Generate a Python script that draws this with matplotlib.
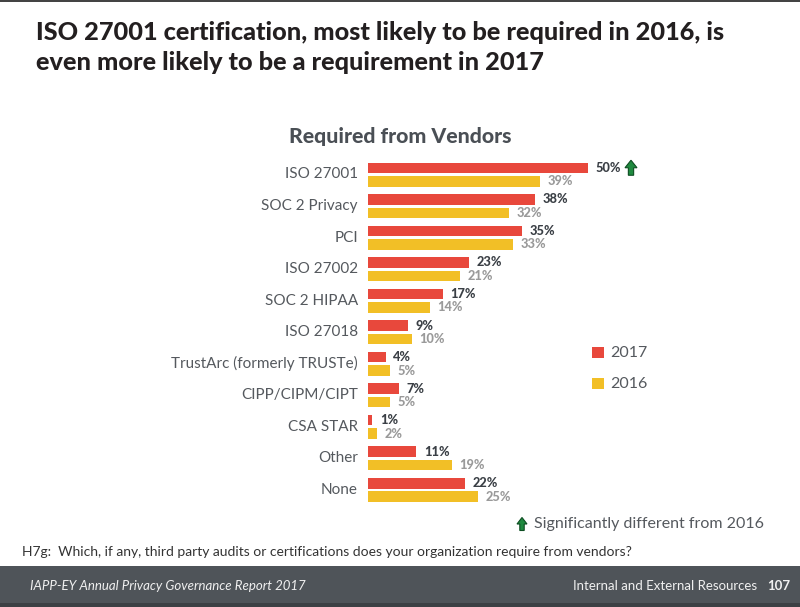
import matplotlib
matplotlib.use("Agg")
import matplotlib.pyplot as plt
from matplotlib.patches import Rectangle, Polygon

categories = ["ISO 27001", "SOC 2 Privacy", "PCI", "ISO 27002", "SOC 2 HIPAA",
              "ISO 27018", "TrustArc (formerly TRUSTe)", "CIPP/CIPM/CIPT",
              "CSA STAR", "Other", "None"]
v2017 = [50, 38, 35, 23, 17, 9, 4, 7, 1, 11, 22]
v2016 = [39, 32, 33, 21, 14, 10, 5, 5, 2, 19, 25]
significant = ["ISO 27001"]

RED = "#e8483c"
YEL = "#f2bf26"
W, H = 800, 607
FONT = "Lato"

fig = plt.figure(figsize=(8, 6.07), dpi=100)
fig.patch.set_facecolor("white")

def fx(x):
    return x / W

def fy(y):
    return 1 - y / H

# top dark line
fig.add_artist(Rectangle((0, fy(2)), 1, 2 / H, transform=fig.transFigure,
                         facecolor="#444", edgecolor="none"))

# title
fig.text(fx(36), fy(32), "ISO 27001 certification, most likely to be required in 2016, is",
         fontsize=18.2, fontweight="black", family=FONT, color="#231f20", va="center", ha="left")
fig.text(fx(36), fy(62), "even more likely to be a requirement in 2017",
         fontsize=18.2, fontweight="black", family=FONT, color="#231f20", va="center", ha="left")

fig.text(fx(400), fy(137), "Required from Vendors", fontsize=15.3, fontweight="black",
         family=FONT, color="#4a4f55", va="center", ha="center")

# bar axes in pixel geometry
ax_left, ax_top, ax_bot = 368, 150, 510
row0, step = 174.5, 31.55
ax = fig.add_axes([fx(ax_left), fy(ax_bot), (W - ax_left) / W, (ax_bot - ax_top) / H])
px_per_pct = 4.4
ax.set_xlim(0, (W - ax_left) / px_per_pct)
ax.set_ylim(10 + (ax_bot - 490) / step, -(row0 - ax_top) / step)
ax.axis("off")

n = len(categories)
ys = list(range(n))
bh = 10.5 / step
off = 6.75 / step
ax.barh([y - off for y in ys], v2017, height=bh, color=RED, edgecolor="none")
ax.barh([y + off for y in ys], v2016, height=bh, color=YEL, edgecolor="none")

for y, c, a, b in zip(ys, categories, v2017, v2016):
    ax.text(a + 1.7, y - off, f"{a}%", fontsize=9.2, fontweight="black", family=FONT,
            color="#3a3f45", va="center", ha="left")
    ax.text(b + 1.7, y + off, f"{b}%", fontsize=9.2, fontweight="black", family=FONT,
            color="#9a9a9a", va="center", ha="left")
    ax.text(-2.3, y, c, fontsize=11, family=FONT, color="#55595e",
            va="center", ha="right", clip_on=False)

def up_arrow(cx, cy, w, h, **kw):
    hw = w / 2
    sw = w * 0.22
    head = h * 0.5
    top = cy - h / 2
    bot = cy + h / 2
    pts = [(cx, top), (cx + hw, top + head), (cx + sw, top + head), (cx + sw, bot),
           (cx - sw, bot), (cx - sw, top + head), (cx - hw, top + head)]
    fig.add_artist(Polygon([(fx(x), fy(y)) for x, y in pts], closed=True,
                           transform=fig.transFigure, facecolor="#1f8a3f",
                           edgecolor="#0d4d22", linewidth=0.8, **kw))

for c in significant:
    i = categories.index(c)
    ypx = row0 + i * step - 6.75
    xpx = ax_left + v2017[i] * px_per_pct + 43
    up_arrow(xpx, ypx, 12, 15)

# legend
fig.add_artist(Rectangle((fx(592), fy(358)), 12 / W, 11 / H, transform=fig.transFigure,
                         facecolor=RED, edgecolor="none"))
fig.text(fx(610), fy(353), "2017", fontsize=11.5, family=FONT, color="#55595e", va="center")
fig.add_artist(Rectangle((fx(592), fy(389)), 12 / W, 11 / H, transform=fig.transFigure,
                         facecolor=YEL, edgecolor="none"))
fig.text(fx(610), fy(384), "2016", fontsize=11.5, family=FONT, color="#55595e", va="center")

# significance note
up_arrow(522, 524, 10, 13)
fig.text(fx(534), fy(524), "Significantly different from 2016", fontsize=11.5,
         family=FONT, color="#55595e", va="center", ha="left")

fig.text(fx(22), fy(552), "H7g:  Which, if any, third party audits or certifications does your organization require from vendors?",
         fontsize=10.0, family=FONT, color="#333333", va="center", ha="left")

# footer
fig.add_artist(Rectangle((0, 0), 1, (H - 566) / H, transform=fig.transFigure,
                         facecolor="#4f5459", edgecolor="none"))
fig.add_artist(Rectangle((0, 0), 1, 4 / H, transform=fig.transFigure,
                         facecolor="#3c4044", edgecolor="none"))
fig.text(fx(30), fy(586), "IAPP-EY Annual Privacy Governance Report 2017", fontsize=9.5,
         style="italic", family=FONT, color="#f0f0f0", va="center", ha="left")
fig.text(fx(757), fy(586), "Internal and External Resources", fontsize=9.5,
         family=FONT, color="#f0f0f0", va="center", ha="right")
fig.text(fx(790), fy(586), "107", fontsize=9.5, fontweight="bold",
         family=FONT, color="#f0f0f0", va="center", ha="right")

fig.savefig("out.png", dpi=100, facecolor="white")
